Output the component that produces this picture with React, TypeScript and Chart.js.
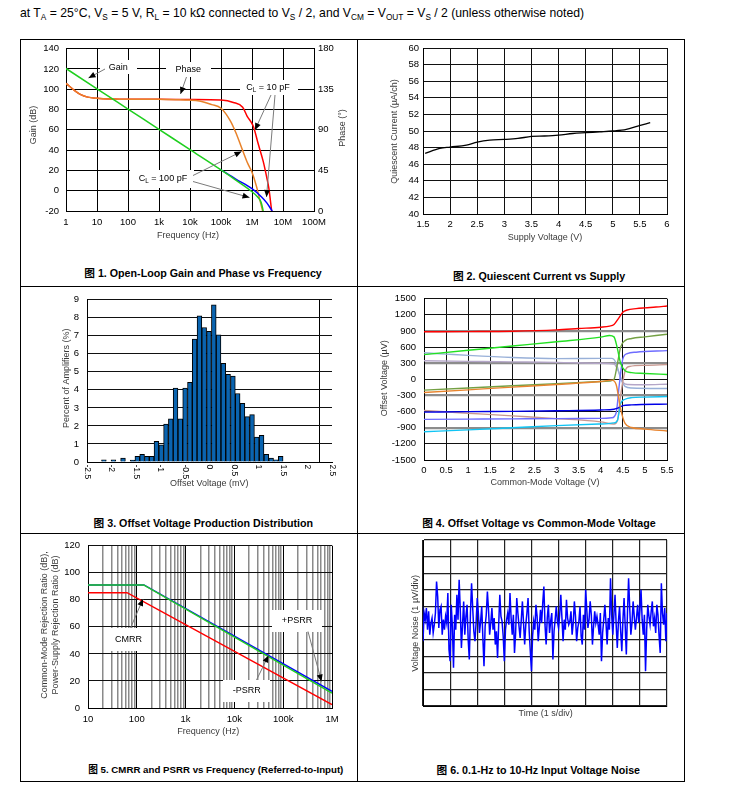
import React, { useEffect, useRef } from 'react';
import { Chart, registerables } from 'chart.js';

Chart.register(...registerables);

const FONT = '"Liberation Sans", Arial, Helvetica, sans-serif';
const TITLE_COLOR = '#3a3a3a';
Chart.defaults.font.family = FONT;
Chart.defaults.color = '#000';

// ================= Figure 1: open-loop gain / phase =================
const olDecades = [1, 10, 100, 1e3, 1e4, 1e5, 1e6, 1e7, 1e8];
const olDecadeLabels = ['1', '10', '100', '1k', '10k', '100k', '1M', '10M', '100M'];
const gainFreq100 = [1, 10, 100, 1e3, 1e4, 1e5, 3e5, 1e6, 1.5e6, 2e6, 2.3e6];
const gain100 = [120.5, 100.5, 80.5, 60.5, 40.5, 20.5, 10.5, -1, -6, -12, -20];
const gainFreq10 = [1e5, 3e5, 1e6, 2e6, 3e6, 4.5e6];
const gain10 = [20.5, 11.5, 2, -6, -12, -20];
const phaseFreq100 = [1, 2, 3, 5, 10, 30, 100, 1e3, 1e4, 2e4, 5e4, 1e5, 2e5, 3e5, 5e5, 7e5, 1e6, 1.4e6, 1.8e6, 2.2e6];
const phase100 = [141.5, 133, 129, 126.3, 125, 124.2, 124, 123.8, 123, 122, 118, 114, 100, 87, 67, 54, 43, 27, 12, 0];
const phaseFreq10 = [1, 2, 3, 5, 10, 30, 100, 1e3, 1e4, 1e5, 2.5e5, 5e5, 7e5, 1.1e6, 1.6e6, 2.3e6, 3e6, 3.5e6, 4.3e6];
const phase10 = [141.5, 133, 129, 126.3, 125, 124.2, 124, 123.8, 123.6, 123, 120.4, 115, 105, 94, 74, 55, 37, 25, 0];

// ================= Figure 2: quiescent current =================
const supplyV = [1.54, 1.81, 2.0, 2.3, 2.5, 2.73, 3.0, 3.25, 3.5, 3.74, 4.0, 4.26, 4.5, 4.76, 5.0, 5.25, 5.46, 5.69];
const quiescentI = [47.3, 47.9, 48.06, 48.3, 48.66, 48.9, 48.98, 49.1, 49.35, 49.4, 49.5, 49.7, 49.8, 49.9, 50.0, 50.2, 50.6, 51.0];

// ================= Figure 3: offset histogram =================
const binCenters = [-2.155, -1.96, -1.765, -1.57, -1.473, -1.375, -1.278, -1.18, -1.083, -0.985, -0.888, -0.79, -0.693, -0.595, -0.498, -0.4, -0.303, -0.205, -0.108, -0.01, 0.088, 0.185, 0.283, 0.38, 0.478, 0.575, 0.673, 0.77, 0.868, 0.965, 1.063, 1.16, 1.258, 1.355, 1.453];
const binPercent = [0.12, 0.12, 0.22, 0.1, 0.32, 0.42, 0.32, 0.32, 1.15, 0.95, 2.1, 2.4, 4.1, 2.4, 4.1, 4.42, 6.82, 8.1, 7.46, 7.25, 8.72, 7.05, 5.47, 4.86, 4.76, 3.8, 3.26, 2.52, 2.63, 1.38, 1.48, 0.43, 0.22, 0.12, 0.32];
const histTickValues = [-2.5, -2, -1.5, -1, -0.5, 0, 0.5, 1, 1.5, 2, 2.5];
const histTickLabels = ['-2.5', '-2', '-1.5', '-1', '-0.5', '0', '0.5', '1', '1.5', '2', '2.5'];

// ================= Figure 4: offset vs common-mode =================
const redX = [0, 1, 2, 3, 3.5, 4, 4.2, 4.3, 4.4, 4.5, 4.6, 4.8, 5, 5.25, 5.5];
const redY = [885, 888, 895, 920, 945, 970, 990, 1020, 1130, 1250, 1290, 1315, 1330, 1345, 1365];
const greenX = [0, 1, 2, 3, 4, 4.2, 4.3, 4.37, 4.45, 4.55, 4.7, 5, 5.5];
const greenY = [460, 540, 620, 700, 785, 815, 790, 600, 300, 160, 125, 110, 90];
const oliveX = [0, 1, 2, 3, 4, 4.2, 4.3, 4.38, 4.45, 4.55, 4.7, 5, 5.5];
const oliveY = [-200, -160, -120, -80, -40, -30, 0, 300, 600, 720, 760, 790, 840];
const steelX = [0, 0.5, 1, 2, 3, 4, 4.25, 4.35, 4.45, 4.55, 4.7, 5.5];
const steelY = [495, 470, 445, 405, 385, 390, 390, 300, 20, -130, -160, -170];
const lavenderX = [0, 1, 2, 3, 4, 4.3, 4.4, 4.5, 4.6, 5, 5.5];
const lavenderY = [345, 335, 325, 315, 300, 285, 150, -50, -95, -100, -90];
const orangeX = [0, 1, 2, 3, 4, 4.25, 4.35, 4.45, 4.55, 4.7, 5, 5.5];
const orangeY = [-245, -195, -145, -95, -40, -15, -100, -550, -820, -895, -925, -960];
const blueX = [0, 1, 2, 3, 4, 4.3, 4.4, 4.5, 4.7, 5.5];
const blueY = [-610, -600, -595, -585, -570, -555, -530, -490, -475, -460];
const periX = [0, 1, 2, 3, 4, 4.25, 4.35, 4.42, 4.5, 4.6, 4.8, 5.5];
const periY = [-745, -740, -735, -730, -725, -715, -620, -100, 380, 480, 505, 535];
const rosyX = [0, 1, 2, 3, 4, 4.3, 4.38, 4.45, 4.55, 4.65, 5, 5.5];
const rosyY = [-580, -630, -680, -730, -790, -830, -760, -300, 150, 240, 260, 275];
const cyanX = [0, 1, 2, 3, 4, 4.3, 4.38, 4.45, 4.55, 4.7, 5, 5.5];
const cyanY = [-975, -940, -900, -860, -830, -810, -760, -450, -370, -340, -330, -320];

// ================= Figure 5: CMRR / PSRR =================
const rrDecades = [10, 100, 1e3, 1e4, 1e5, 1e6];
const rrDecadeLabels = ['10', '100', '1k', '10k', '100k', '1M'];
const rrMinorMultipliers = [2, 3, 4, 5, 6, 7, 8, 9];
const cmrrFreq = [10, 63, 1e6];
const cmrr = [85.3, 85.3, 2.6];
const posPsrrFreq = [10, 140, 1e6];
const posPsrr = [91, 91, 12.3];
const negPsrrFreq = [10, 138, 1e6];
const negPsrr = [91, 91, 11];

// ================= Figure 6: 0.1-10 Hz noise (divisions) =================
const noiseDivisions = 9;
const noiseValues = [
  3.9, 5.6, 5.2, 5.9, 4.6, 5.7, 4.3, 5.0, 5.3, 4.4, 4.9, 5.6, 7.5, 6.6, 4.7, 5.8, 6.0, 4.3, 5.2, 4.6, 5.4, 5.0, 6.8, 3.4,
  2.7, 6.1, 4.8, 2.3, 5.5, 4.6, 6.7, 5.2, 7.6, 5.8, 3.5, 4.9, 6.3, 4.3, 5.4, 6.1, 4.0, 2.8, 5.6, 7.4, 5.9, 4.5, 3.9, 5.0,
  6.5, 5.6, 4.4, 5.1, 6.0, 4.1, 2.4, 4.8, 5.5, 6.9, 5.8, 4.3, 5.0, 5.9, 4.6, 5.3, 3.7, 4.5, 2.9, 4.9, 6.7, 5.4, 5.1, 4.2,
  2.7, 4.6, 5.2, 5.6, 4.9, 6.8, 5.3, 4.3, 5.5, 3.2, 4.4, 6.5, 5.6, 4.8, 4.1, 5.2, 6.3, 5.0, 3.7, 4.9, 5.6, 6.5, 4.5, 3.3,
  2.1, 4.2, 5.1, 4.6, 6.1, 5.4, 3.9, 4.8, 5.8, 5.0, 6.2, 7.2, 4.9, 3.7, 5.3, 6.1, 4.4, 5.1, 5.6, 2.8, 4.5, 5.2, 6.0, 5.1,
  4.7, 5.5, 6.7, 5.3, 3.9, 5.2, 4.6, 6.4, 5.3, 4.9, 5.1, 5.7, 4.3, 5.0, 6.3, 5.4, 3.9, 4.7, 5.1, 6.0, 4.2, 3.7, 5.5, 4.6,
  7.0, 5.8, 4.7, 5.2, 6.3, 5.5, 3.7, 4.8, 5.7, 5.0, 5.4, 4.9, 4.3, 5.6, 2.7, 4.4, 5.2, 6.1, 5.0, 3.7, 5.3, 4.6, 7.7, 5.5,
  4.3, 5.5, 6.7, 4.9, 3.5, 5.1, 6.0, 4.5, 3.3, 5.2, 6.5, 4.8, 3.1, 5.6, 7.7, 5.9, 4.3, 5.0, 6.3, 5.4, 4.6, 5.3, 6.1, 5.0,
  5.8, 7.0, 5.2, 4.3, 5.5, 2.1, 4.6, 6.1, 5.4, 4.9, 5.7, 6.3, 4.8, 5.3, 4.4, 6.1, 5.5, 4.2, 3.2, 7.4, 5.6, 4.9, 5.9, 3.9, 5.6,
];

// ================= helpers =================
type Rect = { x: number; y: number; w: number; h: number };
type Plot = { l: number; t: number; r: number; b: number };
type Draw = (ctx: CanvasRenderingContext2D, chart: any) => void;

const zip = (xs: number[], ys: number[]) => xs.map((x, i) => ({ x, y: ys[i] }));
const tickFont = { family: FONT, size: 9.5 };
const isDecade = (v: number) => Math.abs(Math.log10(v) - Math.round(Math.log10(v))) < 1e-9;
const plainNum = (v: number) => String(v);

function frame(cv: Rect, pl: Plot, hasRight: boolean) {
  return {
    padding: { top: pl.t - cv.y, left: 0, right: hasRight ? 0 : cv.x + cv.w - pl.r, bottom: 0 },
    leftW: pl.l - cv.x,
    rightW: cv.x + cv.w - pl.r,
    bottomH: cv.y + cv.h - pl.b,
  };
}

function overlay(cv: Rect, under: Draw | null, over: Draw | null) {
  return {
    id: 'overlay',
    beforeDatasetsDraw(chart: any) {
      if (!under) return;
      const ctx = chart.ctx;
      ctx.save();
      ctx.translate(-cv.x, -cv.y);
      under(ctx, chart);
      ctx.restore();
    },
    afterDraw(chart: any) {
      if (!over) return;
      const ctx = chart.ctx;
      ctx.save();
      ctx.translate(-cv.x, -cv.y);
      over(ctx, chart);
      ctx.restore();
    },
  };
}

function whiteBox(ctx: CanvasRenderingContext2D, x: number, y: number, w: number, h: number) {
  ctx.fillStyle = '#fff';
  ctx.fillRect(x, y, w, h);
}

function text(ctx: CanvasRenderingContext2D, s: string, x: number, y: number, o: { rot?: number; size?: number; color?: string } = {}) {
  ctx.save();
  ctx.translate(x, y);
  if (o.rot) ctx.rotate(o.rot);
  ctx.font = `${o.size ?? 9}px ${FONT}`;
  ctx.fillStyle = o.color ?? '#000';
  ctx.textAlign = 'center';
  ctx.textBaseline = 'middle';
  ctx.fillText(s, 0, 0);
  ctx.restore();
}

function rich(ctx: CanvasRenderingContext2D, parts: [string, boolean][], cx: number, cy: number, size: number) {
  const sub = size * 0.7;
  const widths = parts.map(([s, isSub]) => {
    ctx.font = `${isSub ? sub : size}px ${FONT}`;
    return ctx.measureText(s).width;
  });
  const total = widths.reduce((a, b) => a + b, 0);
  let x = cx - total / 2;
  ctx.fillStyle = '#000';
  ctx.textAlign = 'left';
  ctx.textBaseline = 'middle';
  parts.forEach(([s, isSub], i) => {
    ctx.font = `${isSub ? sub : size}px ${FONT}`;
    ctx.fillText(s, x, isSub ? cy + size * 0.3 : cy);
    x += widths[i];
  });
}

function arrow(ctx: CanvasRenderingContext2D, x1: number, y1: number, x2: number, y2: number) {
  ctx.save();
  ctx.strokeStyle = '#7a7a7a';
  ctx.lineWidth = 1;
  ctx.beginPath();
  ctx.moveTo(x1, y1);
  ctx.lineTo(x2, y2);
  ctx.stroke();
  const a = Math.atan2(y2 - y1, x2 - x1);
  const L = 7, W = 3;
  ctx.fillStyle = '#000';
  ctx.beginPath();
  ctx.moveTo(x2, y2);
  ctx.lineTo(x2 - L * Math.cos(a) + W * Math.sin(a), y2 - L * Math.sin(a) - W * Math.cos(a));
  ctx.lineTo(x2 - L * Math.cos(a) - W * Math.sin(a), y2 - L * Math.sin(a) + W * Math.cos(a));
  ctx.closePath();
  ctx.fill();
  ctx.restore();
}

const base = {
  responsive: false,
  animation: false,
  events: [],
  plugins: { legend: { display: false }, tooltip: { enabled: false } },
};

const lineDs = (data: any[], color: string, extra: any = {}) => ({
  data,
  borderColor: color,
  backgroundColor: color,
  borderWidth: 1.5,
  pointRadius: 0,
  fill: false,
  cubicInterpolationMode: 'monotone',
  ...extra,
});

const vTitle = (ctx: CanvasRenderingContext2D, s: string, x: number, y: number) =>
  text(ctx, s, x, y, { rot: -Math.PI / 2, color: TITLE_COLOR });
const hTitle = (ctx: CanvasRenderingContext2D, s: string, x: number, y: number) =>
  text(ctx, s, x, y, { color: TITLE_COLOR });

// ================= panel configs =================
// (Chart.js paints dataset 0 last, so the topmost line is listed first.)
const C1: Rect = { x: 21, y: 36, w: 335, h: 226 };
const P1: Plot = { l: 66, t: 46, r: 314, b: 211 };
function cfg1(): any {
  const f = frame(C1, P1, true);
  return {
    type: 'line',
    data: {
      datasets: [
        lineDs(zip(gainFreq100, gain100), '#1fcf1f', { yAxisID: 'y' }),
        lineDs(zip(gainFreq10, gain10), '#0000ff', { yAxisID: 'y' }),
        lineDs(zip(phaseFreq100, phase100), '#e8822a', { yAxisID: 'y1' }),
        lineDs(zip(phaseFreq10, phase10), '#ff0000', { yAxisID: 'y1' }),
      ],
    },
    options: {
      ...base,
      layout: { padding: f.padding },
      scales: {
        x: {
          type: 'logarithmic', min: 1, max: 1e8,
          afterBuildTicks: (s: any) => { s.ticks = olDecades.map((v) => ({ value: v })); },
          ticks: { font: tickFont, padding: 6, autoSkip: false, maxRotation: 0,
            callback: (v: number) => olDecadeLabels[olDecades.findIndex((d) => Math.abs(d - v) < d * 1e-6)] ?? '' },
          grid: { color: '#000', drawTicks: false },
          border: { color: '#000' },
          afterFit: (s: any) => { s.height = f.bottomH; },
        },
        y: {
          min: -20, max: 140,
          ticks: { stepSize: 20, font: tickFont, padding: 7 },
          grid: { color: '#000', drawTicks: false },
          border: { color: '#000' },
          afterFit: (s: any) => { s.width = f.leftW; },
        },
        y1: {
          position: 'right', min: 0, max: 180,
          ticks: { stepSize: 45, font: tickFont, padding: 4 },
          grid: { display: false, drawTicks: false },
          border: { display: true, color: '#000' },
          afterFit: (s: any) => { s.width = f.rightW; },
        },
      },
    },
    plugins: [overlay(C1,
      (ctx) => {
        whiteBox(ctx, 100, 60, 37, 14);
        whiteBox(ctx, 166, 62, 45, 15);
        whiteBox(ctx, 240, 80, 58, 15);
        whiteBox(ctx, 130, 170, 64, 18);
      },
      (ctx) => {
        text(ctx, 'Gain', 118.3, 67.3);
        arrow(ctx, 105, 69, 88.5, 78);
        text(ctx, 'Phase', 188.3, 69.3);
        arrow(ctx, 186.5, 77, 180.5, 94);
        rich(ctx, [['C', false], ['L', true], [' = 10 pF', false]], 268, 87.5, 9);
        arrow(ctx, 271, 95, 255, 130);
        arrow(ctx, 275, 95, 266.5, 197);
        rich(ctx, [['C', false], ['L', true], [' = 100 pF', false]], 163, 179, 9);
        arrow(ctx, 193, 175.5, 241.5, 151.5);
        arrow(ctx, 193, 181.5, 249.5, 197.5);
        vTitle(ctx, 'Gain (dB)', 34, 125);
        vTitle(ctx, 'Phase (°)', 343, 128);
        hTitle(ctx, 'Frequency (Hz)', 188, 236);
      })],
  };
}

const C2: Rect = { x: 358, y: 38, w: 325, h: 224 };
const P2: Plot = { l: 423, t: 48, r: 667, b: 214 };
function cfg2(): any {
  const f = frame(C2, P2, false);
  return {
    type: 'line',
    data: { datasets: [lineDs(zip(supplyV, quiescentI), '#000', { borderWidth: 1.3 })] },
    options: {
      ...base,
      layout: { padding: f.padding },
      scales: {
        x: {
          type: 'linear', min: 1.5, max: 6,
          ticks: { stepSize: 0.5, font: tickFont, padding: 5, maxRotation: 0, autoSkip: false, callback: plainNum },
          grid: { color: '#111', drawTicks: false },
          border: { color: '#000' },
          afterFit: (s: any) => { s.height = f.bottomH; },
        },
        y: {
          min: 40, max: 60,
          ticks: { stepSize: 2, font: tickFont, padding: 4 },
          grid: { color: '#111', drawTicks: false },
          border: { color: '#000' },
          afterFit: (s: any) => { s.width = f.leftW; },
        },
      },
    },
    plugins: [overlay(C2, null, (ctx) => {
      vTitle(ctx, 'Quiescent Current (µA/ch)', 395, 131.5);
      hTitle(ctx, 'Supply Voltage (V)', 545, 237.3);
    })],
  };
}

const C3: Rect = { x: 21, y: 286, w: 335, h: 224 };
const P3: Plot = { l: 87, t: 296, r: 332, b: 462 };
function cfg3(): any {
  const f = frame(C3, P3, false);
  return {
    type: 'bar',
    data: {
      datasets: [{
        data: zip(binCenters, binPercent),
        backgroundColor: '#0a64b0',
        borderColor: '#000',
        borderWidth: 1,
        barPercentage: 1,
        categoryPercentage: 1,
      }],
    },
    options: {
      ...base,
      layout: { padding: f.padding },
      scales: {
        x: {
          type: 'linear', min: -2.5, max: 2.5, offset: false,
          afterBuildTicks: (s: any) => { s.ticks = histTickValues.map((v) => ({ value: v })); },
          ticks: { display: false },
          grid: { drawTicks: false, color: (c: any) => (c.tick && Math.abs(Math.abs(c.tick.value) - 2.5) < 1e-9 ? '#000' : 'rgba(0,0,0,0)') },
          border: { color: '#000' },
          afterFit: (s: any) => { s.height = f.bottomH; },
        },
        y: {
          min: 0, max: 9,
          ticks: { stepSize: 1, font: tickFont, padding: 8 },
          grid: { color: '#111', drawTicks: false },
          border: { color: '#000' },
          afterFit: (s: any) => { s.width = f.leftW; },
        },
      },
    },
    plugins: [overlay(C3, null, (ctx, chart) => {
      const xs = chart.scales.x;
      const bottom = chart.chartArea.bottom + C3.y;
      histTickValues.forEach((v, i) => {
        const px = xs.getPixelForValue(v) + C3.x;
        ctx.save();
        ctx.translate(px, bottom + 2.5);
        ctx.rotate(Math.PI / 2);
        ctx.font = `8.5px ${FONT}`;
        ctx.fillStyle = '#000';
        ctx.textAlign = 'left';
        ctx.textBaseline = 'middle';
        ctx.fillText(histTickLabels[i], 0, 0);
        ctx.restore();
      });
      vTitle(ctx, 'Percent of Amplifiers (%)', 66.7, 378.3);
      hTitle(ctx, 'Offset Voltage (mV)', 209.3, 483.5);
    })],
  };
}

const C4: Rect = { x: 358, y: 285, w: 325, h: 225 };
const P4: Plot = { l: 424, t: 295, r: 667, b: 460 };
const heavyLines = [900, 300, -300, -900];
function cfg4(): any {
  const f = frame(C4, P4, false);
  const ds = (xs: number[], ys: number[], c: string) => lineDs(zip(xs, ys), c, { borderWidth: 1.4 });
  return {
    type: 'line',
    data: {
      datasets: [
        ds(redX, redY, '#ff0000'),
        ds(greenX, greenY, '#22e022'),
        ds(orangeX, orangeY, '#e8842e'),
        ds(oliveX, oliveY, '#74a044'),
        ds(blueX, blueY, '#0000e8'),
        ds(cyanX, cyanY, '#10c4f4'),
        ds(periX, periY, '#6e6cff'),
        ds(rosyX, rosyY, '#c89890'),
        ds(steelX, steelY, '#98b0d8'),
        ds(lavenderX, lavenderY, '#b4a6c8'),
      ],
    },
    options: {
      ...base,
      layout: { padding: f.padding },
      scales: {
        x: {
          type: 'linear', min: 0, max: 5.5,
          ticks: { stepSize: 0.5, font: tickFont, padding: 5, maxRotation: 0, autoSkip: false, callback: plainNum },
          grid: { color: '#111', drawTicks: false },
          border: { color: '#000' },
          afterFit: (s: any) => { s.height = f.bottomH; },
        },
        y: {
          min: -1500, max: 1500,
          ticks: { stepSize: 300, font: tickFont, padding: 8, callback: plainNum },
          grid: {
            drawTicks: false,
            color: (c: any) => (c.tick && heavyLines.includes(c.tick.value) ? '#8c8c8c' : '#111'),
            lineWidth: (c: any) => (c.tick && heavyLines.includes(c.tick.value) ? 2.2 : 1),
          },
          border: { color: '#000' },
          afterFit: (s: any) => { s.width = f.leftW; },
        },
      },
    },
    plugins: [overlay(C4, null, (ctx) => {
      vTitle(ctx, 'Offset Voltage (µV)', 385, 378.3);
      hTitle(ctx, 'Common-Mode Voltage (V)', 545, 482.7);
    })],
  };
}

const C5: Rect = { x: 21, y: 532, w: 335, h: 230 };
const P5: Plot = { l: 88, t: 542, r: 332, b: 708 };
function cfg5(): any {
  const f = frame(C5, P5, false);
  const tickVals = [
    ...rrDecades,
    ...rrDecades.slice(0, -1).flatMap((d) => rrMinorMultipliers.map((m) => m * d)),
  ].sort((a, b) => a - b);
  const straight = { cubicInterpolationMode: 'default', tension: 0 };
  return {
    type: 'line',
    data: {
      datasets: [
        lineDs(zip(negPsrrFreq, negPsrr), '#22cc22', straight),
        lineDs(zip(posPsrrFreq, posPsrr), '#0000ff', straight),
        lineDs(zip(cmrrFreq, cmrr), '#ff0000', straight),
      ],
    },
    options: {
      ...base,
      layout: { padding: f.padding },
      scales: {
        x: {
          type: 'logarithmic', min: 10, max: 1e6,
          afterBuildTicks: (s: any) => { s.ticks = tickVals.map((v) => ({ value: v })); },
          ticks: { font: tickFont, padding: 6, autoSkip: false, maxRotation: 0,
            callback: (v: number) => {
              const i = rrDecades.findIndex((d) => Math.abs(d - v) < d * 1e-6);
              return i >= 0 ? rrDecadeLabels[i] : '';
            } },
          grid: {
            drawTicks: false,
            color: (c: any) => (c.tick && isDecade(c.tick.value) ? '#000' : '#8a8a8a'),
            lineWidth: (c: any) => (c.tick && isDecade(c.tick.value) ? 1 : 1.5),
          },
          border: { color: '#000' },
          afterFit: (s: any) => { s.height = f.bottomH; },
        },
        y: {
          min: 0, max: 120,
          ticks: { stepSize: 20, font: tickFont, padding: 8 },
          grid: { color: '#111', drawTicks: false },
          border: { color: '#000' },
          afterFit: (s: any) => { s.width = f.leftW; },
        },
      },
    },
    plugins: [overlay(C5,
      (ctx) => {
        whiteBox(ctx, 109, 628, 41, 23);
        whiteBox(ctx, 272, 610, 50, 22);
        whiteBox(ctx, 223, 680, 47, 22);
      },
      (ctx) => {
        text(ctx, 'CMRR', 128.5, 640);
        arrow(ctx, 130.5, 628, 143, 599);
        text(ctx, '+PSRR', 297, 621);
        arrow(ctx, 308, 631.5, 321.5, 681.5);
        text(ctx, '-PSRR', 246.7, 690.5);
        arrow(ctx, 256.5, 680, 268.5, 655.5);
        vTitle(ctx, 'Common-Mode Rejection Ratio (dB),', 45, 625);
        vTitle(ctx, 'Power-Supply Rejection Ratio (dB)', 55.5, 625);
        hTitle(ctx, 'Frequency (Hz)', 208.3, 731.7);
      })],
  };
}

const C6: Rect = { x: 358, y: 530, w: 325, h: 230 };
const P6: Plot = { l: 423, t: 540, r: 667, b: 706 };
function cfg6(): any {
  const f = frame(C6, P6, false);
  const n = noiseValues.length;
  const pts = noiseValues.map((y, i) => ({ x: (i * noiseDivisions) / (n - 1), y }));
  return {
    type: 'line',
    data: { datasets: [lineDs(pts, '#0000ff', { cubicInterpolationMode: 'default', tension: 0, borderWidth: 1.5 })] },
    options: {
      ...base,
      layout: { padding: f.padding },
      scales: {
        x: {
          type: 'linear', min: 0, max: noiseDivisions,
          ticks: { stepSize: 1, display: false },
          grid: { color: '#222', drawTicks: false, lineWidth: 1.2 },
          border: { color: '#000' },
          afterFit: (s: any) => { s.height = f.bottomH; },
        },
        y: {
          min: 0, max: 10,
          ticks: { stepSize: 1, display: false },
          grid: { color: '#222', drawTicks: false, lineWidth: 1.2 },
          border: { color: '#000' },
          afterFit: (s: any) => { s.width = f.leftW; },
        },
      },
    },
    plugins: [overlay(C6, null, (ctx) => {
      vTitle(ctx, 'Voltage Noise (1 µV/div)', 416, 623.3);
      hTitle(ctx, 'Time (1 s/div)', 545.7, 714);
    })],
  };
}

// ================= components =================
function ChartBox({ rect, make }: { rect: Rect; make: () => any }) {
  const ref = useRef<HTMLCanvasElement>(null);
  useEffect(() => {
    const chart = new Chart(ref.current as HTMLCanvasElement, make());
    return () => chart.destroy();
  }, []);
  return (
    <canvas
      ref={ref}
      width={rect.w}
      height={rect.h}
      style={{ position: 'absolute', left: rect.x, top: rect.y, width: rect.w, height: rect.h }}
    />
  );
}

const Sub = ({ children }: { children: any }) => (
  <span style={{ fontSize: '0.68em', position: 'relative', top: '0.38em' }}>{children}</span>
);

function Line({ x, y, w, h }: { x: number; y: number; w: number; h: number }) {
  return <div style={{ position: 'absolute', left: x, top: y, width: w, height: h, background: '#000' }} />;
}

function Caption({ cx, cy, size = 10.7, children }: { cx: number; cy: number; size?: number; children: any }) {
  return (
    <div
      style={{
        position: 'absolute', left: cx - 200, top: cy - 7, width: 400, height: 14, lineHeight: '14px',
        textAlign: 'center', fontFamily: `${FONT}, "Noto Sans CJK SC"`, fontWeight: 'bold', fontSize: size,
        color: '#000', whiteSpace: 'nowrap',
      }}
    >
      {children}
    </div>
  );
}

export default function App() {
  return (
    <div style={{ position: 'absolute', left: 0, top: 0, width: 745, height: 797, background: '#fff', overflow: 'hidden' }}>
      <div style={{ position: 'absolute', left: 20, top: 6, fontFamily: FONT, fontSize: 12.2, lineHeight: '14px', whiteSpace: 'nowrap', color: '#000' }}>
        at T<Sub>A</Sub> = 25°C, V<Sub>S</Sub> = 5 V, R<Sub>L</Sub> = 10 kΩ connected to V<Sub>S</Sub> / 2, and V<Sub>CM</Sub> = V<Sub>OUT</Sub> = V<Sub>S</Sub> / 2 (unless otherwise noted)
      </div>
      <Line x={20} y={39} w={665} h={1} />
      <Line x={20} y={286} w={665} h={1} />
      <Line x={20} y={533} w={665} h={1} />
      <Line x={20} y={781} w={665} h={1} />
      <Line x={20} y={39} w={1} h={743} />
      <Line x={357} y={39} w={1} h={743} />
      <Line x={684} y={39} w={1} h={743} />

      <ChartBox rect={C1} make={cfg1} />
      <ChartBox rect={C2} make={cfg2} />
      <ChartBox rect={C3} make={cfg3} />
      <ChartBox rect={C4} make={cfg4} />
      <ChartBox rect={C5} make={cfg5} />
      <ChartBox rect={C6} make={cfg6} />

      <Caption cx={203} cy={273}>图 1. Open-Loop Gain and Phase vs Frequency</Caption>
      <Caption cx={539} cy={275.7}>图 2. Quiescent Current vs Supply</Caption>
      <Caption cx={203.3} cy={522.7}>图 3. Offset Voltage Production Distribution</Caption>
      <Caption cx={539} cy={523.3}>图 4. Offset Voltage vs Common-Mode Voltage</Caption>
      <Caption cx={215.8} cy={770} size={9.7}>图 5. CMRR and PSRR vs Frequency (Referred-to-Input)</Caption>
      <Caption cx={538.3} cy={770}>图 6. 0.1-Hz to 10-Hz Input Voltage Noise</Caption>
    </div>
  );
}
